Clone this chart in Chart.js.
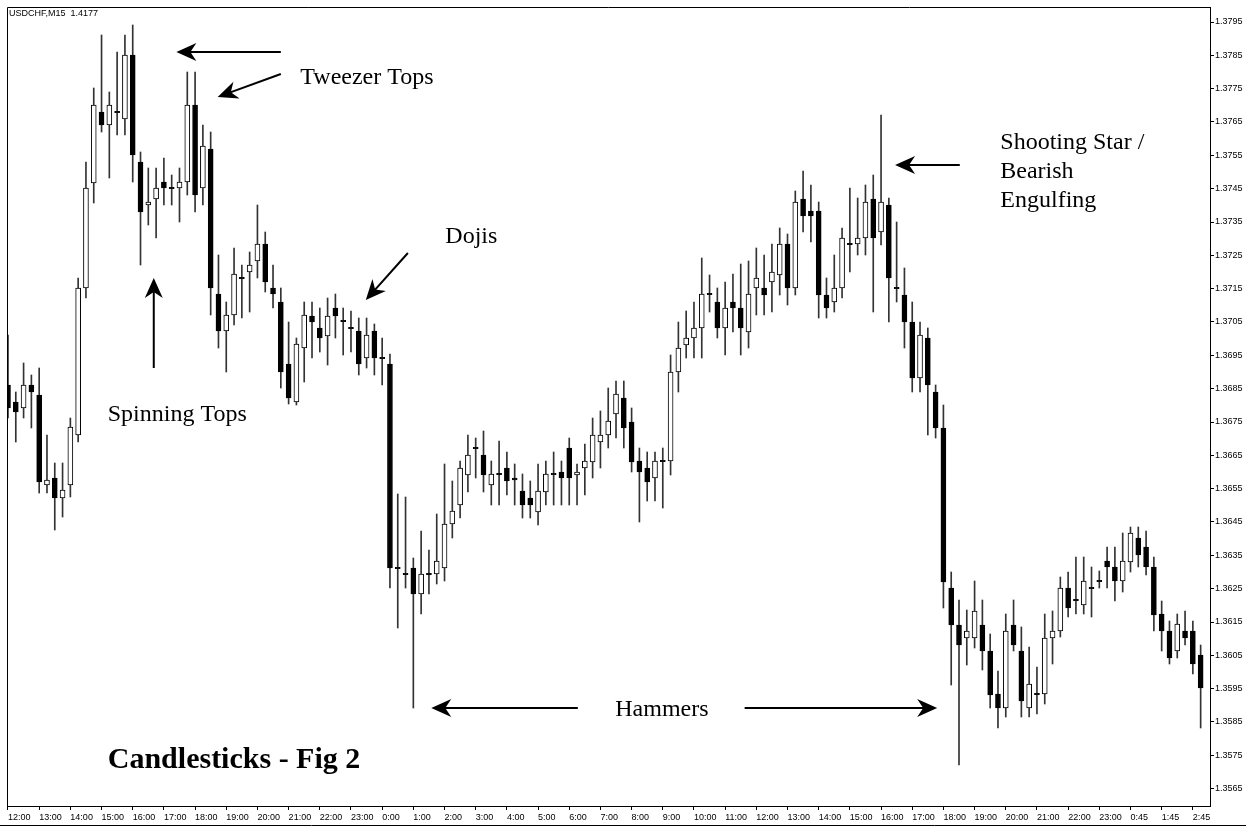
<!DOCTYPE html>
<html>
<head>
<meta charset="utf-8">
<title>Candlesticks - Fig 2</title>
<script src="https://cdn.jsdelivr.net/npm/chart.js@4.4.1/dist/chart.umd.min.js"></script>
<style>
html,body{margin:0;padding:0;background:#fff;}
#wrap{position:relative;width:1246px;height:827px;}
</style>
</head>
<body>
<div id="wrap"><canvas id="chart"></canvas></div>
<script>
// USDCHF M15 candles (one entry per bar)
var opens = [
1.36861,1.36810,1.36792,1.36861,1.36831,1.36561,1.36582,1.36522,1.36561,1.36711,
1.37152,1.37467,1.37680,1.37641,1.37680,1.37659,1.37851,1.37530,1.37401,1.37419,
1.37470,1.37452,1.37452,1.37470,1.37701,1.37452,1.37569,1.37134,1.37023,1.37071,
1.37182,1.37200,1.37233,1.37284,1.37152,1.37110,1.36924,1.36810,1.36972,1.37068,
1.37032,1.37008,1.37092,1.37053,1.37032,1.37023,1.36942,1.37023,1.36942,1.36924,
1.36312,1.36294,1.36312,1.36234,1.36294,1.36294,1.36312,1.36444,1.36501,1.36591,
1.36672,1.36651,1.36561,1.36594,1.36612,1.36582,1.36543,1.36522,1.36480,1.36540,
1.36594,1.36600,1.36672,1.36591,1.36612,1.36630,1.36690,1.36711,1.36774,1.36822,
1.36750,1.36633,1.36612,1.36582,1.36633,1.36633,1.36900,1.36981,1.37002,1.37032,
1.37134,1.37110,1.37032,1.37110,1.37092,1.37020,1.37152,1.37152,1.37170,1.37191,
1.37284,1.37152,1.37419,1.37383,1.37383,1.37131,1.37110,1.37152,1.37284,1.37284,
1.37302,1.37419,1.37320,1.37401,1.37152,1.37131,1.37050,1.36882,1.37002,1.36840,
1.36732,1.36252,1.36141,1.36102,1.36102,1.36141,1.36063,1.35934,1.35892,1.36141,
1.36063,1.35892,1.35934,1.35934,1.36102,1.36123,1.36252,1.36216,1.36201,1.36252,
1.36273,1.36333,1.36315,1.36273,1.36330,1.36402,1.36375,1.36315,1.36174,1.36123,
1.36063,1.36123,1.36123,1.36051
];
var highs = [
1.37011,1.36840,1.36927,1.36891,1.36912,1.36711,1.36627,1.36627,1.36762,1.37182,
1.37530,1.37752,1.37911,1.37740,1.37860,1.37911,1.37941,1.37560,1.37512,1.37512,
1.37542,1.37491,1.37512,1.37800,1.37800,1.37641,1.37620,1.37251,1.37110,1.37272,
1.37221,1.37260,1.37401,1.37320,1.37221,1.37152,1.37050,1.37002,1.37110,1.37110,
1.37092,1.37122,1.37134,1.37092,1.37083,1.37062,1.37062,1.37044,1.37002,1.36954,
1.36534,1.36525,1.36342,1.36423,1.36366,1.36474,1.36624,1.36573,1.36633,1.36711,
1.36702,1.36723,1.36633,1.36693,1.36660,1.36624,1.36594,1.36573,1.36624,1.36633,
1.36660,1.36633,1.36702,1.36624,1.36684,1.36762,1.36783,1.36852,1.36873,1.36873,
1.36792,1.36672,1.36660,1.36660,1.36672,1.36951,1.37050,1.37083,1.37110,1.37242,
1.37191,1.37152,1.37170,1.37194,1.37224,1.37233,1.37272,1.37251,1.37284,1.37332,
1.37314,1.37443,1.37503,1.37461,1.37410,1.37182,1.37251,1.37332,1.37452,1.37422,
1.37461,1.37491,1.37671,1.37422,1.37350,1.37212,1.37110,1.37050,1.37032,1.36861,
1.36801,1.36300,1.36216,1.36186,1.36273,1.36216,1.36114,1.36003,1.36174,1.36216,
1.36135,1.36075,1.36015,1.36174,1.36183,1.36285,1.36300,1.36345,1.36345,1.36315,
1.36303,1.36375,1.36375,1.36417,1.36435,1.36435,1.36423,1.36345,1.36213,1.36153,
1.36174,1.36183,1.36153,1.36081
];
var lows = [
1.36762,1.36690,1.36762,1.36732,1.36537,1.36537,1.36426,1.36465,1.36525,1.36690,
1.37122,1.37407,1.37620,1.37482,1.37611,1.37611,1.37470,1.37221,1.37341,1.37302,
1.37401,1.37401,1.37350,1.37431,1.37380,1.37401,1.37071,1.36972,1.36900,1.37041,
1.37062,1.37080,1.37182,1.37140,1.37092,1.36852,1.36804,1.36801,1.36870,1.36942,
1.36960,1.36921,1.37002,1.36951,1.36960,1.36891,1.36912,1.36891,1.36861,1.36252,
1.36132,1.36252,1.35892,1.36174,1.36234,1.36264,1.36273,1.36402,1.36462,1.36540,
1.36582,1.36540,1.36501,1.36501,1.36531,1.36501,1.36462,1.36462,1.36441,1.36501,
1.36501,1.36501,1.36501,1.36501,1.36531,1.36582,1.36612,1.36672,1.36702,1.36672,
1.36600,1.36450,1.36513,1.36513,1.36492,1.36591,1.36840,1.36942,1.36942,1.36942,
1.37080,1.37002,1.36951,1.37020,1.36951,1.36972,1.37071,1.37071,1.37080,1.37131,
1.37101,1.37131,1.37320,1.37290,1.37062,1.37062,1.37080,1.37122,1.37200,1.37251,
1.37251,1.37080,1.37281,1.37050,1.37110,1.36972,1.36840,1.36840,1.36711,1.36702,
1.36192,1.35961,1.35721,1.36021,1.36072,1.36006,1.35892,1.35832,1.35865,1.36063,
1.35865,1.35865,1.35874,1.35904,1.36024,1.36105,1.36165,1.36174,1.36174,1.36165,
1.36252,1.36252,1.36213,1.36240,1.36300,1.36315,1.36291,1.36123,1.36063,1.36024,
1.36042,1.36081,1.35994,1.35832
];
var closes = [
1.36792,1.36780,1.36861,1.36840,1.36570,1.36576,1.36522,1.36546,1.36735,1.37152,
1.37452,1.37701,1.37641,1.37701,1.37680,1.37851,1.37551,1.37380,1.37410,1.37452,
1.37452,1.37452,1.37470,1.37701,1.37431,1.37578,1.37152,1.37023,1.37071,1.37194,
1.37182,1.37221,1.37284,1.37170,1.37134,1.36900,1.36822,1.36984,1.37071,1.37050,
1.37002,1.37068,1.37068,1.37053,1.37032,1.36924,1.37011,1.36942,1.36942,1.36312,
1.36312,1.36294,1.36234,1.36294,1.36294,1.36333,1.36444,1.36483,1.36612,1.36651,
1.36672,1.36591,1.36594,1.36594,1.36573,1.36576,1.36501,1.36501,1.36543,1.36594,
1.36594,1.36582,1.36582,1.36600,1.36633,1.36711,1.36711,1.36753,1.36834,1.36732,
1.36630,1.36600,1.36570,1.36633,1.36633,1.36900,1.36972,1.37002,1.37032,1.37134,
1.37134,1.37032,1.37092,1.37092,1.37032,1.37134,1.37182,1.37131,1.37200,1.37284,
1.37152,1.37410,1.37368,1.37368,1.37131,1.37092,1.37152,1.37302,1.37284,1.37302,
1.37410,1.37302,1.37410,1.37182,1.37152,1.37050,1.36882,1.37011,1.36861,1.36732,
1.36270,1.36141,1.36081,1.36123,1.36183,1.36063,1.35931,1.35892,1.36123,1.36081,
1.35913,1.35964,1.35934,1.36102,1.36123,1.36252,1.36192,1.36216,1.36273,1.36252,
1.36273,1.36315,1.36273,1.36333,1.36417,1.36351,1.36315,1.36171,1.36123,1.36042,
1.36144,1.36102,1.36024,1.35952
];

// one time label every 4 bars
var timeLabels = ['12:00','13:00','14:00','15:00','16:00','17:00','18:00','19:00','20:00','21:00','22:00','23:00',
  '0:00','1:00','2:00','3:00','4:00','5:00','6:00','7:00','8:00','9:00','10:00','11:00','12:00','13:00','14:00',
  '15:00','16:00','17:00','18:00','19:00','20:00','21:00','22:00','23:00','0:45','1:45','2:45'];
var priceTicks = [1.3565,1.3575,1.3585,1.3595,1.3605,1.3615,1.3625,1.3635,1.3645,1.3655,1.3665,1.3675,
  1.3685,1.3695,1.3705,1.3715,1.3725,1.3735,1.3745,1.3755,1.3765,1.3775,1.3785,1.3795];

// annotations, placed in bar / price units
var notes = [
  {text: 'Tweezer Tops', i: 37.5, p: 1.37782},
  {text: 'Dojis', i: 56.1, p: 1.37305},
  {text: 'Spinning Tops', i: 12.8, p: 1.36771},
  {text: 'Shooting Star /', i: 127.3, p: 1.37587},
  {text: 'Bearish', i: 127.3, p: 1.37500},
  {text: 'Engulfing', i: 127.3, p: 1.37413},
  {text: 'Hammers', i: 77.9, p: 1.35886}
];
var arrows = [
  {i1: 35.0, p1: 1.37860, i2: 21.6, p2: 1.37860},
  {i1: 35.0, p1: 1.37794, i2: 26.9, p2: 1.37725},
  {i1: 51.3, p1: 1.37257, i2: 45.9, p2: 1.37116},
  {i1: 18.7, p1: 1.36912, i2: 18.7, p2: 1.37182},
  {i1: 122.1, p1: 1.37521, i2: 113.8, p2: 1.37521},
  {i1: 73.1, p1: 1.35892, i2: 54.3, p2: 1.35892},
  {i1: 94.5, p1: 1.35892, i2: 119.2, p2: 1.35892}
];

Chart.defaults.font.family = "'Liberation Sans', Arial, sans-serif";
Chart.defaults.font.size = 9;
Chart.defaults.color = '#000';

var wickData = [], bodyData = [], bodyFill = [];
for (var i = 0; i < opens.length; i++) {
    wickData.push({x: i, y: [lows[i], highs[i]]});
    if (opens[i] === closes[i]) {
        // doji: a thin line at the open/close price
        bodyData.push({x: i, y: [opens[i] - 0.00002, opens[i] + 0.00002]});
        bodyFill.push('#000');
    } else {
        bodyData.push({x: i, y: [opens[i], closes[i]]});
        bodyFill.push(closes[i] > opens[i] ? '#fff' : '#000');
    }
}

function drawArrow(ctx, x1, y1, x2, y2) {
    var ang = Math.atan2(y2 - y1, x2 - x1);
    ctx.beginPath();
    ctx.moveTo(x1, y1);
    ctx.lineTo(x2 - Math.cos(ang) * 12, y2 - Math.sin(ang) * 12);
    ctx.lineWidth = 2;
    ctx.stroke();
    ctx.save();
    ctx.translate(x2, y2);
    ctx.rotate(ang);
    ctx.beginPath();
    ctx.moveTo(0, 0);
    ctx.lineTo(-20, -9);
    ctx.lineTo(-14, 0);
    ctx.lineTo(-20, 9);
    ctx.closePath();
    ctx.fill();
    ctx.restore();
}

var notesPlugin = {
    id: 'notes',
    afterDraw: function(chart) {
        var ctx = chart.ctx, xs = chart.scales.x, ys = chart.scales.y, a = chart.chartArea;
        ctx.save();
        ctx.strokeStyle = '#000';
        ctx.fillStyle = '#000';
        ctx.lineWidth = 1;
        ctx.beginPath();
        ctx.moveTo(a.left + 0.5, a.bottom);
        ctx.lineTo(a.left + 0.5, a.top + 0.5);
        ctx.lineTo(a.right, a.top + 0.5);
        ctx.moveTo(0, 825.5);
        ctx.lineTo(1246, 825.5);
        ctx.stroke();

        ctx.font = "9px 'Liberation Sans', Arial, sans-serif";
        ctx.textBaseline = 'middle';
        ctx.textAlign = 'left';
        ctx.fillText('USDCHF,M15  1.4177', 9, 14);

        ctx.font = "24px 'Liberation Serif', 'Times New Roman', serif";
        notes.forEach(function(n) {
            ctx.fillText(n.text, xs.getPixelForValue(n.i), ys.getPixelForValue(n.p));
        });
        ctx.font = "bold 30px 'Liberation Serif', 'Times New Roman', serif";
        ctx.fillText('Candlesticks - Fig 2', xs.getPixelForValue(12.8), ys.getPixelForValue(1.35736));

        arrows.forEach(function(r) {
            drawArrow(ctx, xs.getPixelForValue(r.i1), ys.getPixelForValue(r.p1),
                xs.getPixelForValue(r.i2), ys.getPixelForValue(r.p2));
        });
        ctx.restore();
    }
};

var ctx = document.getElementById('chart').getContext('2d');
new Chart(ctx, {
    type: 'bar',
    data: {
        datasets: [
            {
                label: 'body',
                data: bodyData,
                order: 0,
                grouped: false,
                barThickness: 5,
                backgroundColor: bodyFill,
                borderColor: '#000',
                borderWidth: 1,
                borderSkipped: false
            },
            {
                label: 'wick',
                data: wickData,
                order: 1,
                grouped: false,
                barThickness: 1,
                backgroundColor: '#333',
                borderWidth: 0
            }
        ]
    },
    options: {
        responsive: true,
        maintainAspectRatio: false,
        animation: false,
        events: [],
        layout: {padding: {left: 7, top: 7, right: 0, bottom: 0}},
        plugins: {legend: {display: false}, tooltip: {enabled: false}},
        scales: {
            x: {
                type: 'linear',
                min: -0.128,
                max: 154.2,
                offset: false,
                grid: {display: true, offset: false, drawOnChartArea: false, drawTicks: true, tickLength: 4, color: '#000'},
                border: {display: true, color: '#000'},
                ticks: {autoSkip: false, maxRotation: 0, minRotation: 0, align: 'start', padding: 2,
                    callback: function(v) { return timeLabels[v / 4]; }},
                afterBuildTicks: function(s) {
                    s.ticks = timeLabels.map(function(t, k) { return {value: k * 4}; });
                },
                afterFit: function(s) { s.height = 21; s.paddingLeft = 0; s.paddingRight = 0; }
            },
            y: {
                position: 'right',
                min: 1.35598,
                max: 1.37995,
                grid: {display: true, drawOnChartArea: false, drawTicks: true, tickLength: 4, color: '#000'},
                border: {display: true, color: '#000'},
                ticks: {padding: 1, callback: function(v) { return v.toFixed(4); }},
                afterBuildTicks: function(s) {
                    s.ticks = priceTicks.map(function(v) { return {value: v}; });
                },
                afterFit: function(s) { s.width = 36; s.paddingTop = 0; s.paddingBottom = 0; }
            }
        }
    },
    plugins: [notesPlugin]
});
</script>
</body>
</html>
